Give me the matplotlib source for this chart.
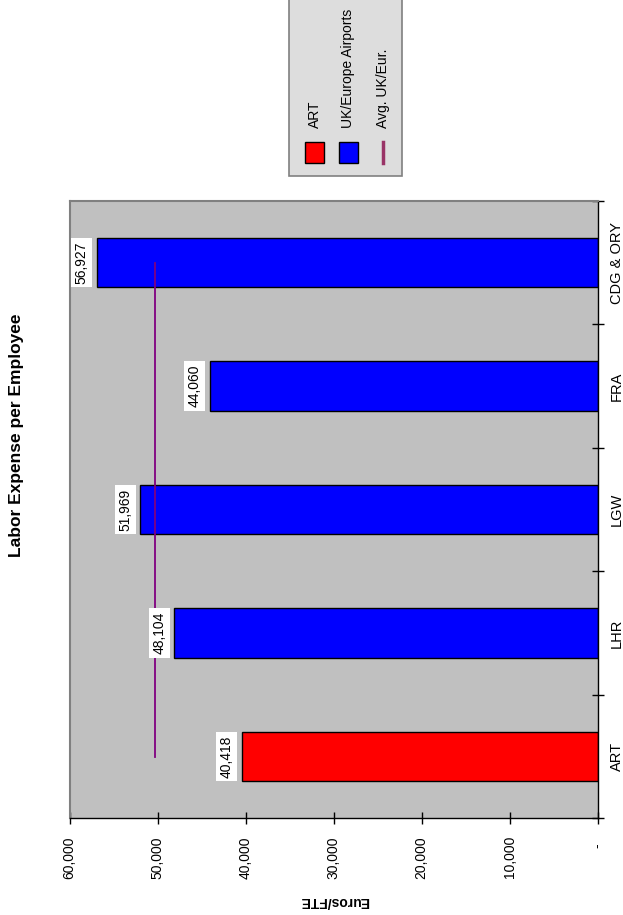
import matplotlib
matplotlib.use("Agg")
import matplotlib.pyplot as plt
from matplotlib.patches import Rectangle
from matplotlib.lines import Line2D
import matplotlib.transforms as mtransforms

plt.rcParams['font.family'] = ['Liberation Sans', 'DejaVu Sans']

# --- data -------------------------------------------------------------
airports = ["ART", "LHR", "LGW", "FRA", "CDG & ORY"]
labor_expense = [40418, 48104, 51969, 44060, 56927]
bar_groups = ["ART", "UK/Europe Airports", "UK/Europe Airports",
              "UK/Europe Airports", "UK/Europe Airports"]
avg_uk_eur = 50265
value_ticks = [0, 10000, 20000, 30000, 40000, 50000, 60000]
value_tick_labels = ["-  ", "10,000", "20,000", "30,000", "40,000", "50,000", "60,000"]

group_colors = {"ART": "#FF0000", "UK/Europe Airports": "#0000FF"}
avg_color = "#800080"
avg_legend_color = "#993366"

W, H = 623, 915
fig = plt.figure(figsize=(W / 100, H / 100), dpi=100)


def fx(px):
    return px / W


def fy(py):
    return 1 - py / H


# plot area (page is laid out sideways: categories run bottom-to-top)
left, right, top, bottom = 69.7, 597.5, 201.0, 818.3
ax = fig.add_axes([fx(left), fy(bottom), fx(right) - fx(left), fy(top) - fy(bottom)])
ax.set_facecolor("#C0C0C0")

ypos = list(range(len(airports)))
ax.barh(ypos, labor_expense, height=0.4,
        color=[group_colors[g] for g in bar_groups],
        edgecolor="black", linewidth=1.0, zorder=2)

ax.plot([avg_uk_eur, avg_uk_eur], [ypos[0], ypos[-1]], color=avg_color,
        linewidth=1.3, zorder=3)

for y, v in zip(ypos, labor_expense):
    ax.annotate(f"{v:,.0f}", xy=(v, y), xytext=(-15, 0),
                textcoords="offset pixels", rotation=90,
                ha="center", va="center", fontsize=10, zorder=4,
                bbox=dict(boxstyle="square,pad=0.25", facecolor="white",
                          edgecolor="none"))

ax.set_xlim(60000, 0)
ax.set_ylim(-0.5, len(airports) - 0.5)

# value axis (bottom)
ax.set_xticks(value_ticks)
ax.set_xticklabels(value_tick_labels, rotation=90, fontsize=10)
ax.tick_params(axis="x", direction="inout", length=9, width=1, pad=8.3,
               colors="black")

# category axis (right)
ax.yaxis.tick_right()
ax.set_yticks([i - 0.5 for i in range(len(airports) + 1)])
ax.set_yticklabels([])
ax.tick_params(axis="y", direction="inout", length=9, width=1,
               left=False, right=True)
cat_trans = mtransforms.blended_transform_factory(ax.transAxes, ax.transData)
for y, name in zip(ypos, airports):
    ax.text(1 + 19.2 / (right - left), y, name, transform=cat_trans,
            rotation=90, ha="center", va="center", fontsize=10.5)

for side in ("left", "top"):
    ax.spines[side].set_color("#808080")
    ax.spines[side].set_linewidth(1.5)
for side in ("right", "bottom"):
    ax.spines[side].set_color("black")
    ax.spines[side].set_linewidth(1.0)

# titles
fig.text(fx(17), fy(435), "Labor Expense per Employee", rotation=90,
         ha="center", va="center", fontsize=12.5, fontweight="bold")
fig.text(fx(334), fy(901), "Euros/FTE", rotation=180,
         ha="center", va="center", fontsize=10, fontweight="bold")

# legend box
fig.patches.append(Rectangle((fx(289.3), fy(175.7)), fx(402) - fx(289.3),
                             fy(-5) - fy(175.7), transform=fig.transFigure,
                             facecolor="#DDDDDD", edgecolor="#808080",
                             linewidth=1.2, zorder=1))
legend_items = [("ART", group_colors["ART"], 314.5),
                ("UK/Europe Airports", group_colors["UK/Europe Airports"], 348.0)]
for label, color, cx in legend_items:
    fig.patches.append(Rectangle((fx(cx - 9.5), fy(162.7)), fx(19), fy(142.3) - fy(162.7),
                                 transform=fig.transFigure, facecolor=color,
                                 edgecolor="black", linewidth=1.0, zorder=2))
    fig.text(fx(cx), fy(127.7), label, rotation=90, rotation_mode="anchor",
             ha="left", va="center", fontsize=10, zorder=3)
fig.lines.append(Line2D([fx(383.3), fx(383.3)], [fy(162.7), fy(142.3)],
                        transform=fig.transFigure, color=avg_legend_color,
                        linewidth=2.5, zorder=2))
fig.text(fx(383.0), fy(127.7), "Avg. UK/Eur.", rotation=90, rotation_mode="anchor",
         ha="left", va="center", fontsize=10, zorder=3)

fig.savefig("out.png", dpi=100, facecolor="white")
